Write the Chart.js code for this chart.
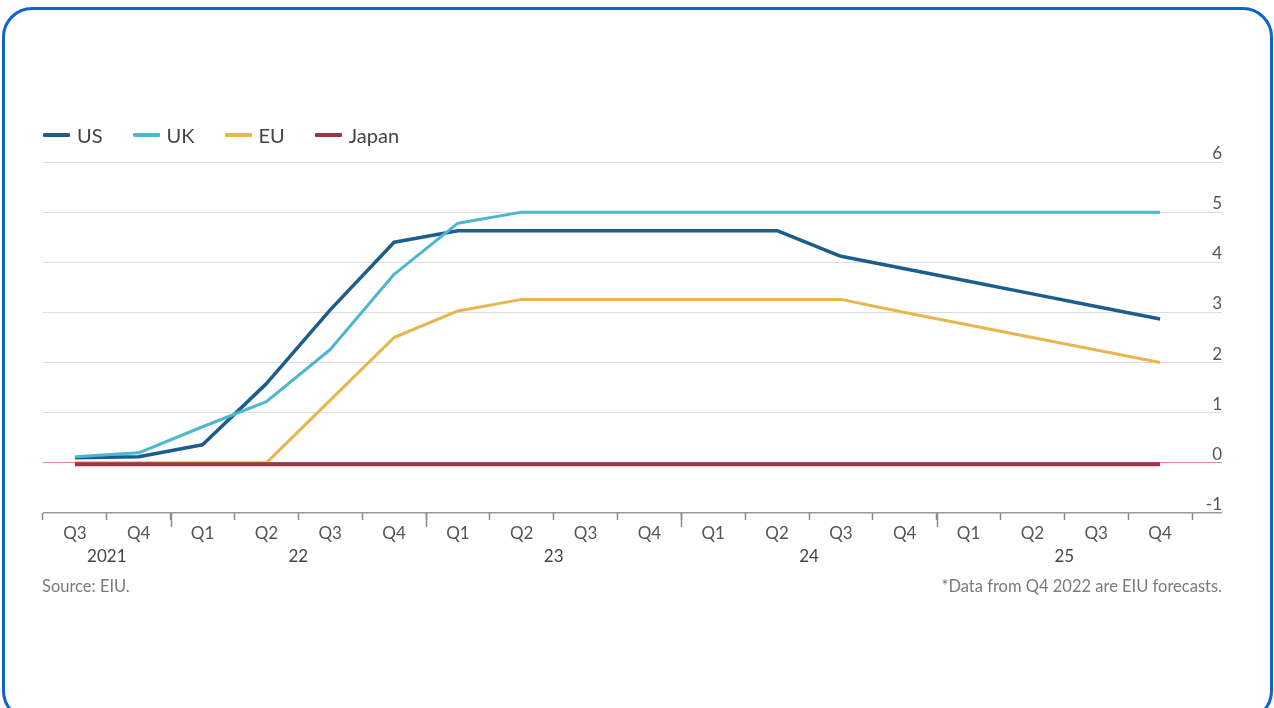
<!DOCTYPE html>
<html>
<head>
<meta charset="utf-8">
<script src="https://cdn.jsdelivr.net/npm/chart.js@4/dist/chart.umd.min.js"></script>
<style>
html,body{margin:0;padding:0;background:#fff;width:1274px;height:708px;overflow:hidden;font-family:Lato,'Open Sans',sans-serif;}
#frame{position:absolute;left:2px;top:7px;width:1271px;height:714px;box-sizing:border-box;border:3px solid #0f63c9;border-radius:30px;pointer-events:none;}
#wrap{position:absolute;left:0;top:0;width:1274px;height:708px;}
#legend{position:absolute;left:43px;top:122px;height:26px;display:flex;align-items:center;font-size:20px;color:#444;}
.item{display:flex;align-items:center;margin-right:30px;}
.sw{display:inline-block;width:27px;height:4px;margin-right:7px;border-radius:1px;}
#source{position:absolute;left:42px;top:576px;font-size:16.5px;color:#7a7a7a;}
#note{position:absolute;right:52px;top:576px;font-size:16.5px;color:#7a7a7a;}
</style>
</head>
<body>
<div id="wrap"><canvas id="c" width="1274" height="708"></canvas></div>
<div id="legend"></div>
<div id="source">Source: EIU.</div>
<div id="note">*Data from Q4 2022 are EIU forecasts.</div>
<div id="frame"></div>
<script>
// ---- data ----
const quarters = ['Q3','Q4','Q1','Q2','Q3','Q4','Q1','Q2','Q3','Q4','Q1','Q2','Q3','Q4','Q1','Q2','Q3','Q4'];
const quarterYears = [2021,2021,2022,2022,2022,2022,2023,2023,2023,2023,2024,2024,2024,2024,2025,2025,2025,2025];
const years = [2021,2022,2023,2024,2025];
const yearLabels = ['2021','22','23','24','25'];
const seriesNames = ['US','UK','EU','Japan'];
const usRate    = [0.10,0.12,0.36,1.58,3.05,4.40,4.63,4.63,4.63,4.63,4.63,4.63,4.12,3.87,3.62,3.37,3.12,2.87];
const ukRate    = [0.12,0.20,0.72,1.22,2.26,3.76,4.78,5.00,5.00,5.00,5.00,5.00,5.00,5.00,5.00,5.00,5.00,5.00];
const euRate    = [0.00,0.00,0.00,0.00,1.25,2.50,3.03,3.26,3.26,3.26,3.26,3.26,3.26,3.00,2.75,2.50,2.25,2.00];
const japanRate = [-0.03,-0.03,-0.03,-0.03,-0.03,-0.03,-0.03,-0.03,-0.03,-0.03,-0.03,-0.03,-0.03,-0.03,-0.03,-0.03,-0.03,-0.03];
const yMin = -1, yMax = 6;

const colors = {US:'#1c5d8c', UK:'#4cb7cf', EU:'#e8b54e', Japan:'#9a3447'};
const FONT = 'Lato, "Open Sans", sans-serif';

// legend
const lg = document.getElementById('legend');
seriesNames.forEach(n => {
  const it = document.createElement('span'); it.className = 'item';
  const sw = document.createElement('span'); sw.className = 'sw'; sw.style.background = colors[n];
  it.appendChild(sw); it.appendChild(document.createTextNode(n)); lg.appendChild(it);
});

const yearPlugin = {
  id: 'years',
  afterDraw(chart) {
    const x = chart.scales.x, ctx = chart.ctx;
    const step = x.getPixelForValue(1) - x.getPixelForValue(0);
    ctx.save();
    ctx.strokeStyle = '#8c8c8c'; ctx.lineWidth = 1.5;
    for (let i = 1; i < quarterYears.length; i++) {
      if (quarterYears[i] !== quarterYears[i-1]) {
        const px = Math.round(x.getPixelForValue(i) - step/2) + 0.5;
        ctx.beginPath(); ctx.moveTo(px, x.top); ctx.lineTo(px, x.top + 14); ctx.stroke();
      }
    }
    ctx.font = '17px ' + FONT; ctx.fillStyle = '#444'; ctx.textAlign = 'center'; ctx.textBaseline = 'middle';
    years.forEach((yr, k) => {
      const idx = quarterYears.map((v,i) => v === yr ? i : -1).filter(i => i >= 0);
      const c = (idx[0] + idx[idx.length-1]) / 2;
      const px = x.getPixelForValue(idx[0]) + (c - idx[0]) * step;
      ctx.fillText(yearLabels[k], px, x.top + 44);
    });
    ctx.restore();
  }
};

function build() {
  const mk = (label, data, order, w) => ({
    label, data, borderColor: colors[label], backgroundColor: colors[label],
    borderWidth: w, pointRadius: 0, tension: 0, order, fill: false,
    borderJoinStyle: 'round', borderCapStyle: 'butt'
  });
  new Chart(document.getElementById('c'), {
    type: 'line',
    data: {
      labels: quarters,
      datasets: [
        mk('US', usRate, 2, 3.5),
        mk('UK', ukRate, 1, 3),
        mk('EU', euRate, 3, 3),
        mk('Japan', japanRate, 0, 4)
      ]
    },
    plugins: [yearPlugin],
    options: {
      responsive: false, animation: false,
      layout: { padding: { left: 43, top: 162, right: 52, bottom: 155 } },
      plugins: { legend: { display: false }, tooltip: { enabled: false } },
      scales: {
        x: {
          type: 'category', offset: true,
          grid: { offset: true, drawOnChartArea: false, drawTicks: true, tickLength: 7, tickColor: '#8c8c8c', tickWidth: 1.5 },
          border: { display: false },
          ticks: { color: '#555', font: { family: FONT, size: 17 }, padding: 3, maxRotation: 0, autoSkip: false },
          afterFit(s) { s.height = 40; }
        },
        y: {
          position: 'right', min: yMin, max: yMax,
          grid: {
            color: c => c.tick && c.tick.value === 0 ? '#e58a8a' : (c.tick && c.tick.value === yMin ? '#9a9a9a' : '#dddddd'),
            lineWidth: c => c.tick && c.tick.value === yMin ? 1.5 : 1,
            drawTicks: true, tickLength: 30
          },
          border: { display: false },
          ticks: {
            stepSize: 1, crossAlign: 'far', padding: -12, color: '#555',
            font: { family: FONT, size: 17, lineHeight: 1.0 },
            callback: v => [String(v), '']
          },
          afterFit(s) { s.width = 30; }
        }
      }
    }
  });
}
const go = () => build();
if (document.fonts && document.fonts.load) {
  Promise.all([document.fonts.load('17px Lato'), document.fonts.load('20px Lato')]).then(go, go);
} else go();
</script>
</body>
</html>
